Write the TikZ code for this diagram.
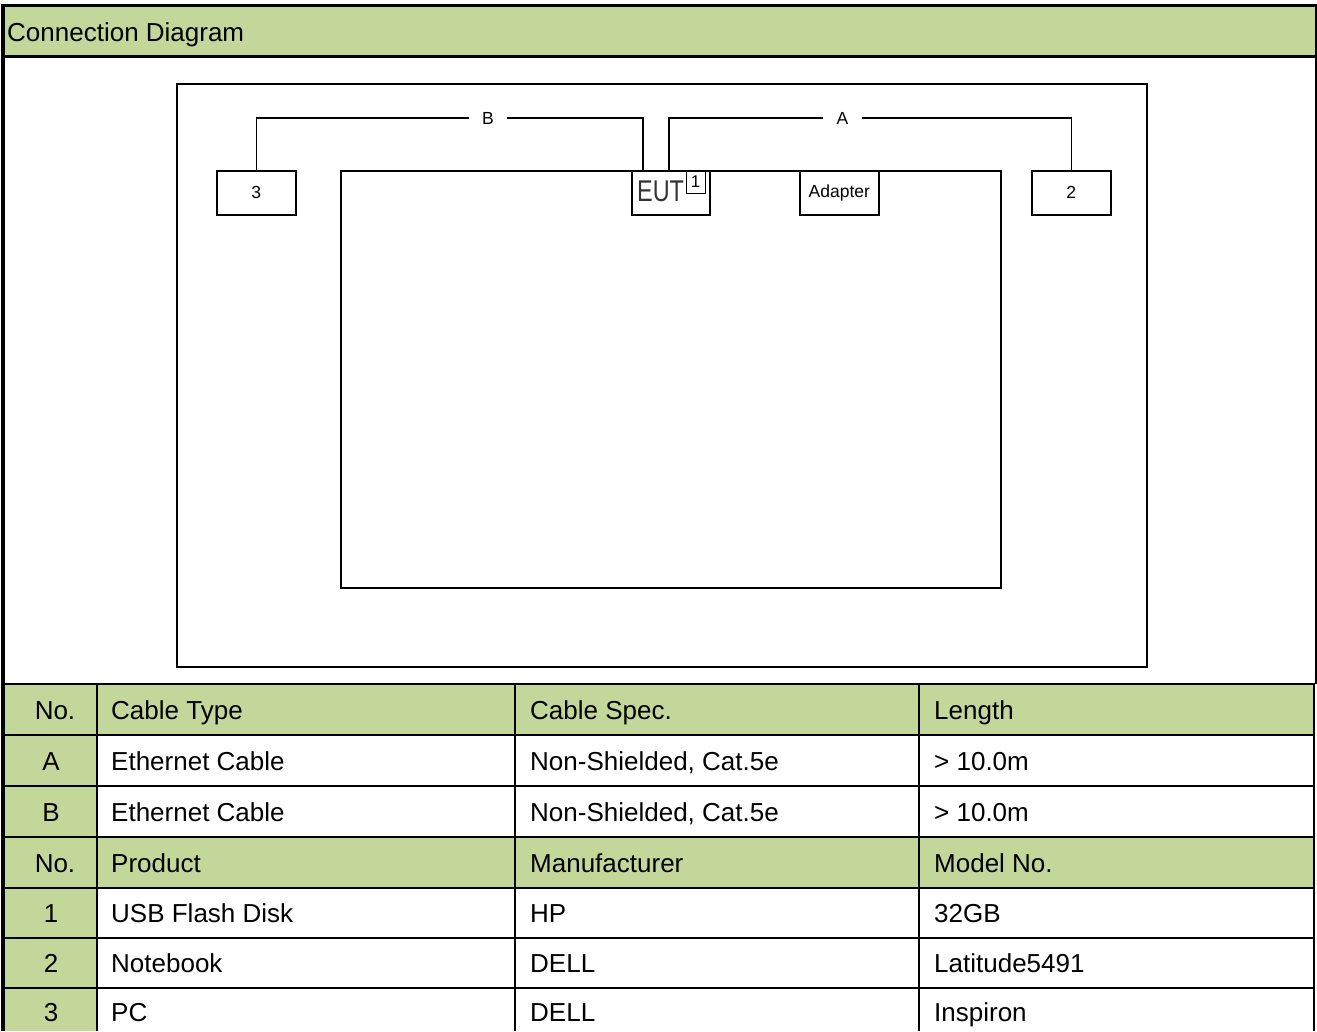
\documentclass[tikz,border=0pt]{standalone}
\usepackage{fontspec}
\setmainfont{Liberation Sans}
\definecolor{hdrgreen}{RGB}{196,215,155}
\begin{document}
\begin{tikzpicture}[x=1pt,y=-1pt,
  dev/.style={draw,line width=1.6pt,minimum width=79pt,minimum height=44pt,inner sep=0pt,anchor=north west,font=\fontsize{17.5}{17.5}\selectfont},
  wire/.style={line width=1.6pt},
  cablelbl/.style={inner sep=0pt,font=\fontsize{17.5}{17.5}\selectfont},
  grid/.style={line width=2.6pt},
  cellc/.style={font=\fontsize{26}{26}\selectfont,anchor=base,inner sep=0pt},
  celll/.style={font=\fontsize{26}{26}\selectfont,anchor=base west,inner sep=0pt}]
\useasboundingbox (0,0) rectangle (1317,1031);
% header band
\fill[hdrgreen] (3,5) rectangle (1316,56);
\node[font=\fontsize{26}{26}\selectfont,anchor=base west,inner sep=0pt] (title) at (7,41.5) {Connection Diagram};
\draw[line width=3pt] (1.5,5) -- (1316,5);
\draw[line width=3pt] (3,56) -- (1316,56);
\draw[line width=1.2pt] (1316,3.5) -- (1316,684);
% diagram frames
\node[draw,line width=1.6pt,minimum width=970pt,minimum height=583pt,anchor=north west,inner sep=0pt] (frame) at (176,83) {};
\node[draw,line width=1.6pt,minimum width=660pt,minimum height=417pt,anchor=north west,inner sep=0pt] (pc) at (340,170) {};
% devices
\node[dev] (d3) at (216,170) {3};
\node[dev,minimum width=78pt] (eut) at (631,170) {};
\node[font=\fontsize{30}{30}\selectfont,text=black!80,anchor=base west,inner sep=0pt] (euttxt) at (637,201) {\scalebox{0.78}[1]{EUT}};
\node[draw,line width=1.1pt,minimum width=19pt,minimum height=22pt,inner sep=0pt,anchor=north west,font=\fontsize{17}{17}\selectfont] (usb) at (685.5,170.5) {1};
\node[dev] (adp) at (799,170) {Adapter};
\node[dev] (d2) at (1031,170) {2};
% cables
\node[cablelbl,minimum width=37pt] (lblB) at (488,118) {B};
\node[cablelbl,minimum width=39pt] (lblA) at (842.5,118) {A};
\coordinate (eutB) at ([xshift=12pt]eut.north west);
\coordinate (eutA) at ([xshift=38pt]eut.north west);
\draw[wire] (d3.north) |- (lblB.west);
\draw[wire] (lblB.east) -| (eutB);
\draw[wire] (eutA) |- (lblA.west);
\draw[wire] (lblA.east) -| (d2.north);
% table fills
\fill[hdrgreen] (3,684) rectangle (1314,735);
\fill[hdrgreen] (3,837) rectangle (1314,888);
\fill[hdrgreen] (3,735) rectangle (97,837);
\fill[hdrgreen] (3,888) rectangle (97,1031);
% table grid
\foreach \yy in {684,735,786,837,888,938,988} \draw[grid] (3,\yy) -- (1315.3,\yy);
\foreach \xx in {97,515,919} \draw[grid] (\xx,684) -- (\xx,1031);
\draw[grid] (1314,682.7) -- (1314,1031);
\draw[line width=3.4pt] (3,3.5) -- (3,1031);
% table text
\node[cellc] (h1) at (55,719) {No.};
\node[celll] (h2) at (111,719) {Cable Type};
\node[celll] (h3) at (530,719) {Cable Spec.};
\node[celll] (h4) at (934,719) {Length};
\node[cellc] (a1) at (51,770) {A};
\node[celll] (a2) at (111,770) {Ethernet Cable};
\node[celll] (a3) at (530,770) {Non-Shielded, Cat.5e};
\node[celll] (a4) at (934,770) {> 10.0m};
\node[cellc] (b1) at (51,821) {B};
\node[celll] (b2) at (111,821) {Ethernet Cable};
\node[celll] (b3) at (530,821) {Non-Shielded, Cat.5e};
\node[celll] (b4) at (934,821) {> 10.0m};
\node[cellc] (p1) at (55,872) {No.};
\node[celll] (p2) at (111,872) {Product};
\node[celll] (p3) at (530,872) {Manufacturer};
\node[celll] (p4) at (934,872) {Model No.};
\node[cellc] (r11) at (51,922.5) {1};
\node[celll] (r12) at (111,922.5) {USB Flash Disk};
\node[celll] (r13) at (530,922.5) {HP};
\node[celll] (r14) at (934,922.5) {32GB};
\node[cellc] (r21) at (51,972.5) {2};
\node[celll] (r22) at (111,972.5) {Notebook};
\node[celll] (r23) at (530,972.5) {DELL};
\node[celll] (r24) at (934,972.5) {Latitude5491};
\node[cellc] (r31) at (51,1021.5) {3};
\node[celll] (r32) at (111,1021.5) {PC};
\node[celll] (r33) at (530,1021.5) {DELL};
\node[celll] (r34) at (934,1021.5) {Inspiron};
\end{tikzpicture}
\end{document}
